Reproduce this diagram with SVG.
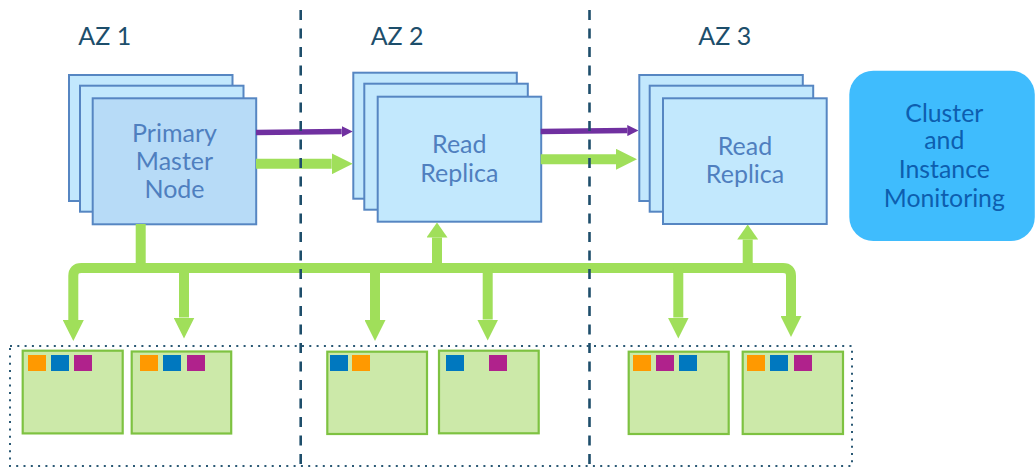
<svg xmlns="http://www.w3.org/2000/svg" width="1036" height="467" viewBox="0 0 1036 467">
<style>
.az{font-family:Lato,"Open Sans",sans-serif;font-size:25px;fill:#1d4e6b}
.nt{font-family:Lato,"Open Sans",sans-serif;font-size:25px;fill:#4f7fbf;text-anchor:middle}
.mt{font-family:Lato,"Open Sans",sans-serif;font-size:24.8px;fill:#0d5eaf;text-anchor:middle}
.st{fill:#c2e8fd;stroke:#5686c2;stroke-width:2}
.pm{fill:#b7dbf7;stroke:#5686c2;stroke-width:2}
.gb{fill:#cce9a9;stroke:#7ec241;stroke-width:2.2}
.g{fill:none;stroke:#a0df5a;stroke-width:10;stroke-linejoin:round}
.p{fill:none;stroke:#7030a0;stroke-width:5.5}
.dash{stroke:#1e4e6b;stroke-width:2.6;stroke-dasharray:10 8.5;fill:none}
.dot{stroke:#2a5874;stroke-width:2;stroke-dasharray:2 5.3;fill:none}
.o{fill:#ff9900}.b{fill:#0078bf}.m{fill:#b0228c}
</style>
<defs>
<marker id="gh" viewBox="0 0 21 21" markerWidth="21" markerHeight="21" markerUnits="userSpaceOnUse" refX="0" refY="10.5" orient="auto-start-reverse"><path d="M0,0 L21,10.5 L0,21 Z" fill="#a0df5a"/></marker>
<marker id="gu" viewBox="0 0 15 21" markerWidth="15" markerHeight="21" markerUnits="userSpaceOnUse" refX="0" refY="10.5" orient="auto"><path d="M0,0 L15,10.5 L0,21 Z" fill="#a0df5a"/></marker>
<marker id="ph" viewBox="0 0 11 11" markerWidth="11" markerHeight="11" markerUnits="userSpaceOnUse" refX="0" refY="5.5" orient="auto"><path d="M0,0 L11,5.5 L0,11 Z" fill="#7030a0"/></marker>
</defs>

<text class="az" x="78.3" y="45">AZ 1</text>
<text class="az" x="370.7" y="45">AZ 2</text>
<text class="az" x="698.3" y="45">AZ 3</text>

<g id="primary">
<rect class="st" x="69" y="75" width="163.5" height="126"/>
<rect class="st" x="80" y="85.7" width="163.5" height="126"/>
<rect class="pm" x="92.7" y="98.3" width="163.5" height="126"/>
<text class="nt" x="174.5" y="141.5">Primary</text>
<text class="nt" x="174.5" y="170">Master</text>
<text class="nt" x="174.5" y="198.3">Node</text>
</g>
<g id="replica2">
<rect class="st" x="353.3" y="72.7" width="163.5" height="126"/>
<rect class="st" x="364.3" y="83.7" width="163.5" height="126"/>
<rect class="st" x="377.7" y="96.7" width="163.5" height="125"/>
<text class="nt" x="459.3" y="153">Read</text>
<text class="nt" x="459.3" y="181.5">Replica</text>
</g>
<g id="replica3">
<rect class="st" x="639.3" y="75" width="163.5" height="126"/>
<rect class="st" x="649.7" y="85.7" width="163.5" height="126"/>
<rect class="st" x="663" y="98.3" width="163.7" height="125.7"/>
<text class="nt" x="745" y="155">Read</text>
<text class="nt" x="745" y="183.3">Replica</text>
</g>
<g id="monitoring">
<rect x="849.3" y="70.7" width="185.5" height="170.3" rx="24" fill="#3fbcfd"/>
<text class="mt" x="944.3" y="121.7">Cluster</text>
<text class="mt" x="944.3" y="149">and</text>
<text class="mt" x="944.3" y="178.3">Instance</text>
<text class="mt" x="944.3" y="206.7">Monitoring</text>
</g>

<g id="instances">
<rect class="dot" x="10" y="346" width="842" height="120"/>
<g id="inst1"><rect class="gb" x="22.7" y="350.7" width="100" height="82.7"/><rect class="o" x="28" y="355" width="18" height="16"/><rect class="b" x="51" y="355" width="18" height="16"/><rect class="m" x="74" y="355" width="18" height="16"/></g>
<g id="inst2"><rect class="gb" x="131.7" y="351.5" width="99.5" height="82"/><rect class="o" x="140" y="355" width="18" height="16"/><rect class="b" x="163" y="355" width="18" height="16"/><rect class="m" x="187" y="355" width="18" height="16"/></g>
<g id="inst3"><rect class="gb" x="327.3" y="351.7" width="99.7" height="82.3"/><rect class="b" x="330" y="355" width="18" height="16"/><rect class="o" x="352" y="355" width="18" height="16"/></g>
<g id="inst4"><rect class="gb" x="439" y="350.7" width="99.7" height="82.6"/><rect class="b" x="446" y="355" width="18" height="16"/><rect class="m" x="489" y="355" width="18" height="16"/></g>
<g id="inst5"><rect class="gb" x="628.7" y="351.7" width="100" height="82.3"/><rect class="o" x="633" y="355" width="18" height="16"/><rect class="m" x="656" y="355" width="18" height="16"/><rect class="b" x="679" y="355" width="18" height="16"/></g>
<g id="inst6"><rect class="gb" x="742.7" y="351.7" width="100.3" height="82.3"/><rect class="o" x="747" y="355" width="18" height="16"/><rect class="b" x="770" y="355" width="18" height="16"/><rect class="m" x="794" y="355" width="18" height="16"/></g>
</g>

<g id="connectors">
<path class="p" d="M256,132.5 L341.7,131.6" marker-end="url(#ph)"/>
<path class="p" d="M540.7,131.5 L627.3,130.6" marker-end="url(#ph)"/>
<path class="g" d="M256,163.8 H331.7" marker-end="url(#gh)"/>
<path class="g" d="M540.7,159.3 H616" marker-end="url(#gh)"/>
<path class="g" d="M140.7,224 V268"/>
<path class="g" d="M73.3,320 V276 Q73.3,268 81.3,268 H783 Q791,268 791,276 V316" marker-start="url(#gh)" marker-end="url(#gh)"/>
<path class="g" d="M184,268 V317.5" marker-end="url(#gh)"/>
<path class="g" d="M375,268 V320" marker-end="url(#gh)"/>
<path class="g" d="M487.7,268 V319.5" marker-end="url(#gh)"/>
<path class="g" d="M678.3,268 V317.5" marker-end="url(#gh)"/>
<path class="g" d="M437,268 V237.5" marker-end="url(#gu)"/>
<path class="g" d="M747.7,268 V239.5" marker-end="url(#gu)"/>
</g>

<g id="zones">
<line class="dash" x1="300.7" y1="10" x2="300.7" y2="467"/>
<line class="dash" x1="589.5" y1="10" x2="589.5" y2="467"/>
</g>
</svg>
